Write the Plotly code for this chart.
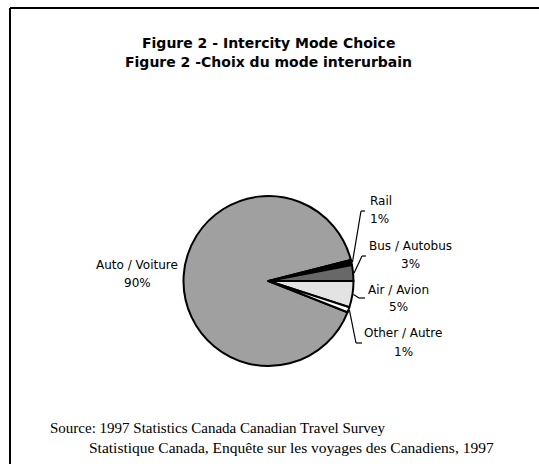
import math
import plotly.graph_objects as go

W, H = 539, 464

# Intercity mode shares (%)
modes = ["Auto / Voiture", "Rail", "Bus / Autobus", "Air / Avion", "Other / Autre"]
shares = [90, 1, 3, 5, 1]
colors = ["#a0a0a0", "#000000", "#686868", "#e3e3e3", "#ffffff"]

# Pie geometry in pixels
cx, cy, r = 268.5, 281.0, 85.0
start_cw = 75.6 - 324.0  # first slice start, degrees clockwise from 12 o'clock

def px(x):
    return x / W

def py(y):
    return 1 - y / H

fig = go.Figure()
fig.add_trace(go.Pie(
    labels=modes, values=shares, sort=False, direction="clockwise",
    rotation=(start_cw) % 360,
    marker=dict(colors=colors, line=dict(color="black", width=2)),
    textinfo="none", hoverinfo="label+percent", showlegend=False,
    domain=dict(x=[px(cx - r), px(cx + r)], y=[py(cy + r), py(cy - r)]),
))

# Mid-angle of each slice -> point on the rim
total = sum(shares)
mids = []
acc = start_cw
for v in shares:
    a = v / total * 360
    mids.append(acc + a / 2)
    acc += a

def rim(i, rr=r):
    ang = math.radians(mids[i])
    return cx + rr * math.sin(ang), cy - rr * math.cos(ang)

shapes = []
def seg(x0, y0, x1, y1, w=1.2):
    shapes.append(dict(type="line", xref="paper", yref="paper",
                       x0=px(x0), y0=py(y0), x1=px(x1), y1=py(y1),
                       line=dict(color="black", width=w)))

# frame (top and left edges)
seg(10, 8, W + 5, 8, 2)
seg(10, 8, 10, H + 5, 2)

# leader lines for the small slices
lead = {1: (361, 211, 365), 2: (362, 256, 366), 3: (359, 298, 365), 4: (356, 343, 362)}
for i, (bx, by, ex) in lead.items():
    sx, sy = rim(i, r + 1)
    seg(sx, sy, bx, by)
    seg(bx, by, ex, by)

annots = []
def txt(x, y, s, size=12, family="DejaVu Sans", xanchor="center", bold=False):
    if bold:
        s = "<b>" + s + "</b>"
    annots.append(dict(x=px(x), y=py(y), xref="paper", yref="paper", text=s,
                       showarrow=False, xanchor=xanchor, yanchor="middle",
                       font=dict(family=family, size=size, color="black")))

txt(268.5, 43, "Figure 2 - Intercity Mode Choice", size=14, bold=True)
txt(268.5, 62, "Figure 2 -Choix du mode interurbain", size=14, bold=True)

label_pos = {0: (137, 265, 283), 1: (378, 201, 219), 2: (410, 246, 264),
             3: (398, 290, 307), 4: (403, 333, 352)}
for i, (lx, ly1, ly2) in label_pos.items():
    name = modes[i]
    if i == 1:
        txt(368, ly1, name, xanchor="left")
        txt(368, ly2, f"{shares[i]}%", xanchor="left")
    else:
        txt(lx, ly1, name)
        txt(lx, ly2, f"{shares[i]}%")

txt(48, 428, "Source: 1997 Statistics Canada Canadian Travel Survey",
    size=15, family="Liberation Serif", xanchor="left")
txt(87, 447, "Statistique Canada, Enquête sur les voyages des Canadiens, 1997",
    size=15.5, family="Liberation Serif", xanchor="left")

fig.update_layout(
    width=W, height=H, margin=dict(l=0, r=0, t=0, b=0),
    paper_bgcolor="white", plot_bgcolor="white",
    shapes=shapes, annotations=annots,
)
fig.write_html("out.html")
